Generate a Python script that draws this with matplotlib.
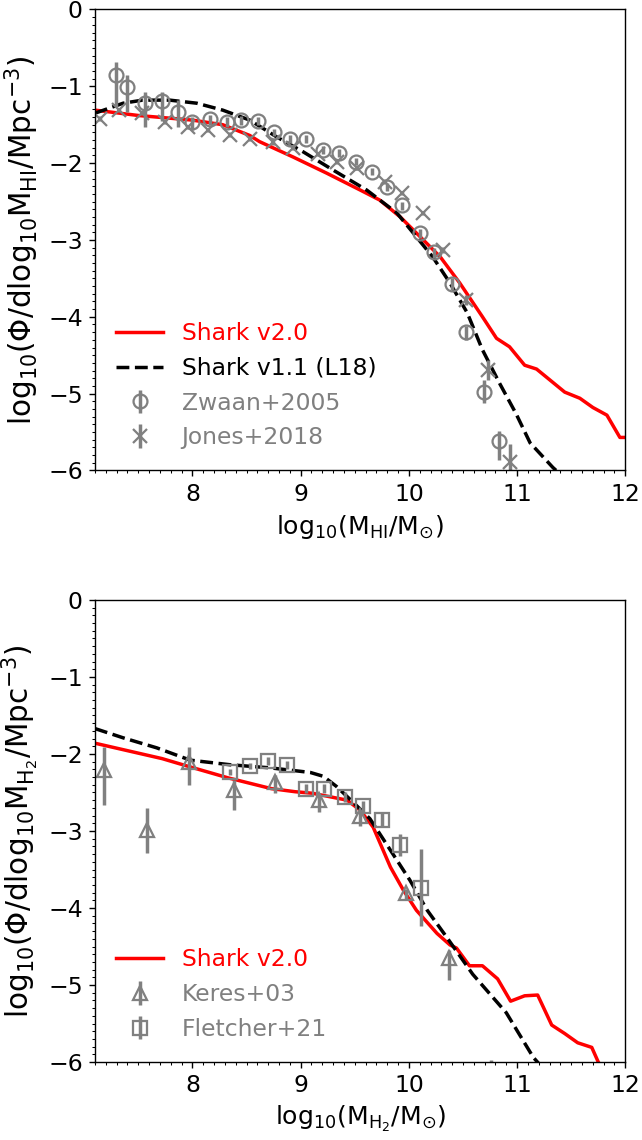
import numpy as np
import matplotlib
matplotlib.use("Agg")
import matplotlib.pyplot as plt
from matplotlib.ticker import MultipleLocator

# ---- HI mass function ----
hi_x_v2 = [7.10, 7.50, 8.00, 8.28, 8.53, 8.62, 8.93, 9.24, 9.55, 9.73, 9.92, 10.07,
           10.29, 10.47, 10.68, 10.81, 10.93, 11.07, 11.18, 11.44, 11.58, 11.70,
           11.83, 11.95, 12.00]
hi_y_v2 = [-1.31, -1.38, -1.44, -1.50, -1.64, -1.72, -1.92, -2.13, -2.35, -2.48,
           -2.70, -2.91, -3.22, -3.56, -4.00, -4.28, -4.39, -4.63, -4.68, -4.98,
           -5.06, -5.18, -5.28, -5.57, -5.57]

hi_x_v11 = [7.10, 7.36, 7.54, 7.79, 8.04, 8.28, 8.53, 8.78, 9.02, 9.30, 9.61, 9.89,
            10.07, 10.22, 10.38, 10.54, 10.68, 10.84, 10.99, 11.12, 11.33, 11.40]
hi_y_v11 = [-1.35, -1.22, -1.18, -1.18, -1.22, -1.31, -1.44, -1.66, -1.85, -2.09,
            -2.35, -2.65, -2.96, -3.22, -3.56, -3.95, -4.43, -4.87, -5.26, -5.64,
            -5.96, -6.05]

zwaan_x = [7.29, 7.40, 7.56, 7.72, 7.87, 8.00, 8.16, 8.32, 8.45, 8.61, 8.75, 8.90,
           9.05, 9.21, 9.35, 9.51, 9.66, 9.80, 9.94, 10.10, 10.23, 10.40, 10.53,
           10.69, 10.83]
zwaan_y = [-0.85, -1.01, -1.22, -1.19, -1.33, -1.47, -1.43, -1.46, -1.44, -1.45,
           -1.60, -1.69, -1.69, -1.83, -1.87, -1.98, -2.11, -2.31, -2.55, -2.91,
           -3.16, -3.57, -4.20, -4.98, -5.61]
zwaan_lo = [0.42, 0.32, 0.31, 0.26, 0.20, 0.10, 0.08, 0.07, 0.06, 0.06, 0.05, 0.05,
            0.05, 0.05, 0.05, 0.05, 0.05, 0.05, 0.06, 0.06, 0.07, 0.08, 0.10, 0.14, 0.26]
zwaan_hi = [0.17, 0.16, 0.15, 0.12, 0.15, 0.07, 0.06, 0.06, 0.05, 0.05, 0.05, 0.05,
            0.05, 0.05, 0.05, 0.05, 0.05, 0.05, 0.05, 0.05, 0.06, 0.07, 0.08, 0.16, 0.13]

jones_x = [7.15, 7.32, 7.53, 7.75, 7.96, 8.14, 8.35, 8.53, 8.74, 8.93, 9.16, 9.34,
           9.52, 9.78, 9.94, 10.13, 10.32, 10.53, 10.73, 10.93]
jones_y = [-1.42, -1.31, -1.35, -1.46, -1.53, -1.57, -1.63, -1.68, -1.73, -1.80,
           -1.88, -1.98, -2.06, -2.24, -2.39, -2.65, -3.13, -3.78, -4.69, -5.89]
jones_err = [0.03, 0.03, 0.03, 0.03, 0.03, 0.03, 0.03, 0.03, 0.03, 0.03, 0.03, 0.03,
             0.03, 0.03, 0.03, 0.03, 0.04, 0.06, 0.13, 0.24]

# ---- H2 mass function ----
h2_x_v2 = [7.10, 7.72, 7.96, 8.33, 8.73, 8.95, 9.11, 9.43, 9.55, 9.67, 9.83, 9.95,
           10.07, 10.26, 10.38, 10.44, 10.56, 10.68, 10.82, 10.94, 11.07, 11.19,
           11.32, 11.44, 11.56, 11.69, 11.75, 11.80]
h2_y_v2 = [-1.86, -2.06, -2.16, -2.31, -2.45, -2.49, -2.51, -2.60, -2.73, -2.95,
           -3.47, -3.77, -4.03, -4.33, -4.48, -4.52, -4.75, -4.75, -4.92, -5.21,
           -5.14, -5.13, -5.52, -5.63, -5.75, -5.81, -6.00, -6.10]

h2_x_v11 = [7.10, 7.36, 7.67, 7.98, 8.35, 8.72, 9.09, 9.21, 9.33, 9.48, 9.64, 9.83,
            10.01, 10.17, 10.35, 10.59, 10.90, 11.15, 11.22]
h2_y_v11 = [-1.67, -1.79, -1.92, -2.08, -2.14, -2.18, -2.24, -2.29, -2.42, -2.62,
            -2.84, -3.25, -3.64, -4.03, -4.38, -4.86, -5.36, -5.94, -6.05]

keres_x = [7.18, 7.58, 7.97, 8.38, 8.76, 9.17, 9.55, 9.97, 10.37, 10.76]
keres_y = [-2.21, -2.99, -2.10, -2.47, -2.36, -2.60, -2.81, -3.81, -4.65, -6.30]
keres_lo = [0.45, 0.30, 0.30, 0.26, 0.15, 0.15, 0.13, 0.08, 0.29, 0.30]
keres_hi = [0.30, 0.29, 0.19, 0.13, 0.09, 0.09, 0.08, 0.06, 0.10, 0.33]

fletcher_x = [8.35, 8.53, 8.70, 8.87, 9.05, 9.22, 9.41, 9.58, 9.75, 9.92, 10.11]
fletcher_y = [-2.23, -2.16, -2.09, -2.14, -2.45, -2.45, -2.56, -2.68, -2.86, -3.18, -3.74]
fletcher_err = [0.04, 0.04, 0.05, 0.05, 0.06, 0.06, 0.06, 0.07, 0.09, 0.14, 0.50]

fig = plt.figure(figsize=(642 / 125, 1140 / 125), dpi=125)
ax1 = fig.add_axes([0.148, 0.5873, 0.826, 0.4044])
ax2 = fig.add_axes([0.148, 0.0684, 0.826, 0.4053])

grey = 'grey'
ebkw = dict(ls='none', color=grey, mfc='none', mec=grey, ms=8, mew=1.3, elinewidth=2)

ax1.plot(hi_x_v2, hi_y_v2, color='red', lw=2, label='Shark v2.0')
ax1.plot(hi_x_v11, hi_y_v11, color='k', lw=2, ls='--', label='Shark v1.1 (L18)')
ax1.errorbar(zwaan_x, zwaan_y, yerr=[zwaan_lo, zwaan_hi], marker='o',
             label='Zwaan+2005', **ebkw)
ax1.errorbar(jones_x, jones_y, yerr=jones_err, marker='x', label='Jones+2018', **ebkw)

ax2.plot(h2_x_v2, h2_y_v2, color='red', lw=2, label='Shark v2.0')
ax2.plot(h2_x_v11, h2_y_v11, color='k', lw=2, ls='--')
ax2.errorbar(keres_x, keres_y, yerr=[keres_lo, keres_hi], marker='^',
             label='Keres+03', **ebkw)
ax2.errorbar(fletcher_x, fletcher_y, yerr=fletcher_err, marker='s',
             label='Fletcher+21', **ebkw)

ax1.set_xlabel(r'$\rm log_{10}(M_{HI}/M_{\odot})$', fontsize=14.5)
ax1.set_ylabel(r'$\rm log_{10}(\Phi/dlog_{10}M_{HI}/Mpc^{-3})$', fontsize=17)
ax2.set_xlabel(r'$\rm log_{10}(M_{H_2}/M_{\odot})$', fontsize=14.5)
ax2.set_ylabel(r'$\rm log_{10}(\Phi/dlog_{10}M_{H_2}/Mpc^{-3})$', fontsize=17)

for ax, cols in ((ax1, ['red', 'k', grey, grey]), (ax2, ['red', grey, grey])):
    ax.set_xlim(7.1, 12)
    ax.set_ylim(-6, 0)
    ax.xaxis.set_major_locator(MultipleLocator(1))
    ax.xaxis.set_minor_locator(MultipleLocator(0.1))
    ax.yaxis.set_major_locator(MultipleLocator(1))
    ax.yaxis.set_minor_locator(MultipleLocator(0.1))
    ax.tick_params(labelsize=13.5)
    leg = ax.legend(loc='lower left', frameon=False, fontsize=13.5)
    for txt, c in zip(leg.get_texts(), cols):
        txt.set_color(c)

fig.savefig('out.png', dpi=125)
